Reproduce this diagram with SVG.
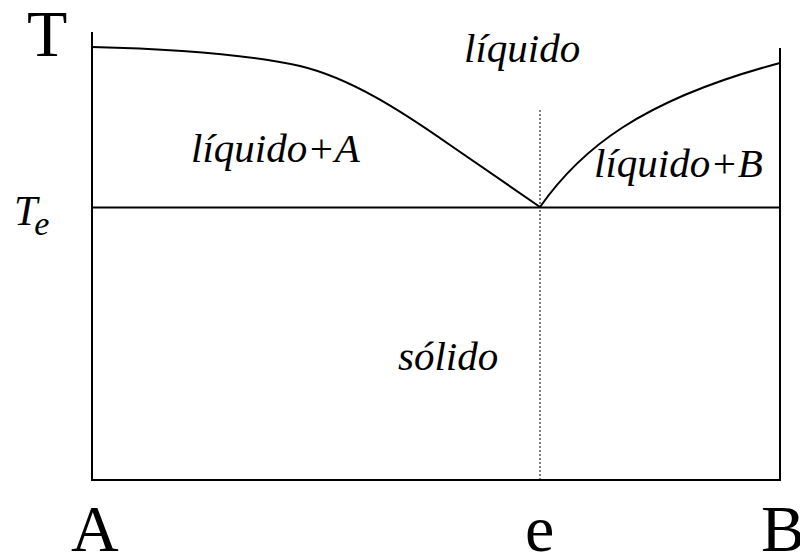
<svg xmlns="http://www.w3.org/2000/svg" width="800" height="554" viewBox="0 0 800 554">
<style>
.ax{stroke:#000;stroke-width:2;fill:none}
.cv{stroke:#000;stroke-width:2;fill:none}
.dot{stroke:#000;stroke-width:1;stroke-dasharray:2 2;fill:none}
.big{font-size:66px}
.it{font-size:41px;font-style:italic}
</style>
<rect width="800" height="554" fill="#fff"/>
<g id="axes">
<path class="ax" d="M92,32 V480 H780 V48"/>
<path class="ax" d="M92,207.5 H780"/>
<path class="dot" d="M540,110 V480"/>
</g>
<g id="curves">
<path class="cv" d="M92,47 C180,49 250,55 300,66 C350,78 400,110 450,145 L540,207"/>
<path class="cv" d="M540,207 C580,150 640,100 780,63"/>
</g>
<g id="labels" fill="#000" font-family="Liberation Serif">
<text class="big" x="27" y="56">T</text>
<text font-style="italic" font-size="42" x="14" y="225">T<tspan font-size="34" dx="-3" dy="10">e</tspan></text>
<text class="big" x="71" y="551">A</text>
<text class="big" x="525" y="551">e</text>
<text class="big" x="761" y="551">B</text>
<text class="it" x="464" y="62">líquido</text>
<text class="it" x="191" y="162">líquido+A</text>
<text class="it" x="594" y="177">líquido+B</text>
<text class="it" x="398" y="370">sólido</text>
</g>
</svg>
